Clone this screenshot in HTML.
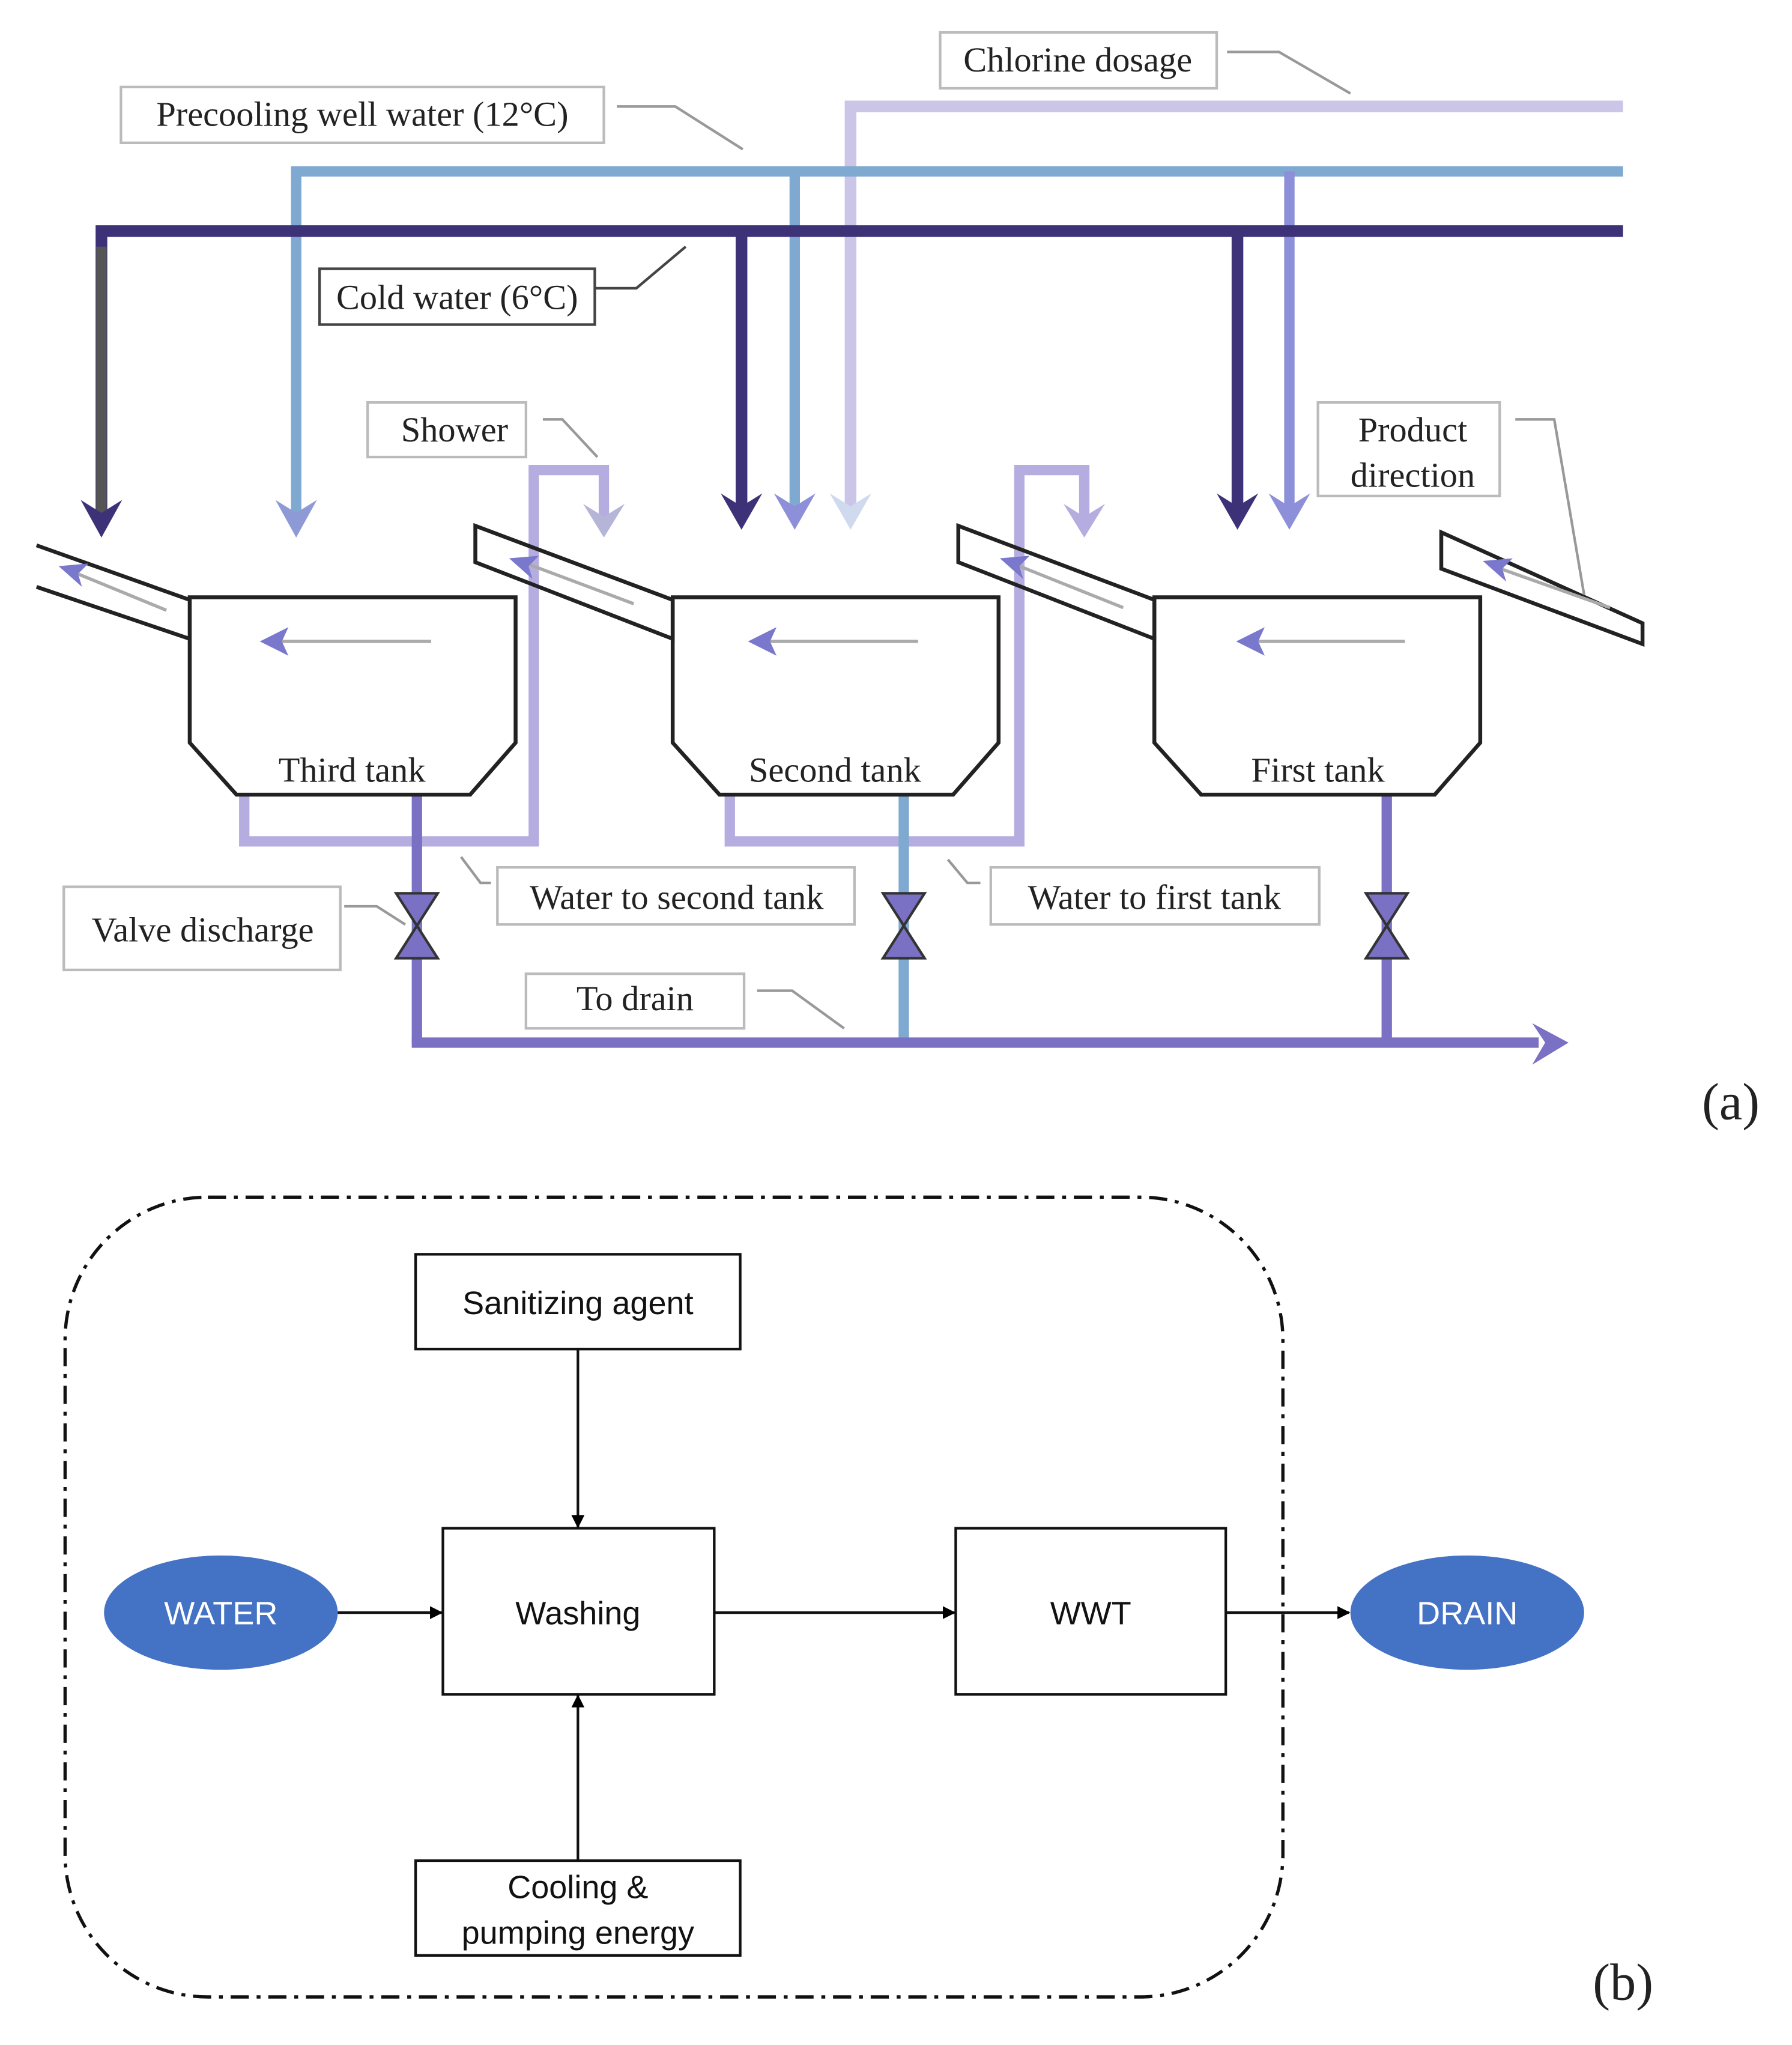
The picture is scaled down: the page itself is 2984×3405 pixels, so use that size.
<!DOCTYPE html>
<html><head><meta charset="utf-8"><style>html,body{margin:0;padding:0;background:#fff}svg{display:block}</style></head>
<body>
<svg width="2984" height="3405" viewBox="0 0 1380 1575" xmlns="http://www.w3.org/2000/svg">
<defs>
<marker id="ah" markerWidth="10" markerHeight="10" refX="9" refY="5" orient="auto" markerUnits="userSpaceOnUse"><path d="M0,0 L10,5 L0,10 z" fill="#000"/></marker>
</defs>
<rect width="1380" height="1575" fill="#fff"/>
<g fill="none" stroke-linecap="butt">
<!-- chlorine -->
<path d="M1250,82 H655 V395" stroke="#cbc6e8" stroke-width="9"/>
<!-- precooling -->
<path d="M1250,132 H228 V395" stroke="#7fa9d0" stroke-width="8"/>
<path d="M612,132 V390" stroke="#7fa9d0" stroke-width="8"/>
<path d="M993,132 V390" stroke="#8d8fd8" stroke-width="8"/>
<!-- cold water -->
<path d="M1250,178 H78 V395" stroke="#3d3178" stroke-width="9"/>
<path d="M78,190 V395" stroke="#555" stroke-width="8"/>
<path d="M571,178 V390" stroke="#3d3178" stroke-width="9"/>
<path d="M953,178 V390" stroke="#3d3178" stroke-width="9"/>
<!-- shower loops -->
<path d="M188,612 V648 H411 V362 H465 V400" stroke="#b5ade0" stroke-width="8"/>
<path d="M562,612 V648 H785 V362 H835 V400" stroke="#b5ade0" stroke-width="8"/>
<!-- drains -->
<path d="M321,612 V803" stroke="#7a70c4" stroke-width="8"/>
<path d="M696,612 V803" stroke="#7fa9d0" stroke-width="8"/>
<path d="M1068,612 V803" stroke="#7a70c4" stroke-width="8"/>
<path d="M317,803 H1185" stroke="#7a70c4" stroke-width="8"/>
</g>
<!-- arrowheads top -->
<g>
<path d="M62,385 L78,414 L94,385 L78,395z" fill="#3d3178"/>
<path d="M212,385 L228,414 L244,385 L228,395z" fill="#8d9ad6"/>
<path d="M555,380 L571,408 L587,380 L571,390z" fill="#3d3178"/>
<path d="M596,380 L612,408 L628,380 L612,390z" fill="#8d8fd8"/>
<path d="M639,380 L655,408 L671,380 L655,390z" fill="#cfdaee"/>
<path d="M937,380 L953,408 L969,380 L953,390z" fill="#3d3178"/>
<path d="M977,380 L993,408 L1009,380 L993,390z" fill="#8d8fd8"/>
<path d="M449,388 L465,414 L481,388 L465,398z" fill="#b5b5d8"/>
<path d="M819,388 L835,414 L851,388 L835,398z" fill="#b5ade0"/>
<path d="M1180,788 L1208,803 L1180,820 L1190,803z" fill="#7a70c4"/>
</g>
<!-- tanks -->
<g fill="none" stroke="#222" stroke-width="3">
<path d="M146,460 H397 V572 L362,612 H182 L146,572 Z"/>
<path d="M518,460 H769 V572 L734,612 H554 L518,572 Z"/>
<path d="M889,460 H1140 V572 L1105,612 H925 L889,572 Z"/>
<path d="M28,420 L146,462 M28,452 L146,492"/>
<path d="M366,405 L518,462 L518,492 L366,433 Z"/>
<path d="M738,405 L889,462 L889,492 L738,433 Z"/>
<path d="M1110,410 L1265,480 L1265,496 L1110,438 Z"/>
</g>
<!-- inner arrows -->
<g stroke="#aaa" stroke-width="2.5" fill="none">
<path d="M332,494 H215"/><path d="M707,494 H590"/><path d="M1082,494 H965"/>
<path d="M128,470 L55,440"/><path d="M488,465 L400,432"/><path d="M865,468 L780,434"/><path d="M1240,468 L1150,436"/>
</g>
<g fill="#7a78cc">
<path d="M200,494 L222,483 L217,494 L222,505z"/>
<path d="M576,494 L598,483 L593,494 L598,505z"/>
<path d="M952,494 L974,483 L969,494 L974,505z"/>
<path d="M45,436 L68,434 L60,442 L63,452z"/>
<path d="M392,430 L415,428 L407,436 L410,446z"/>
<path d="M770,430 L793,428 L785,436 L788,446z"/>
<path d="M1142,432 L1165,430 L1157,438 L1160,448z"/>
</g>
<!-- valves -->
<g fill="#7a70c4" stroke="#333" stroke-width="2">
<path d="M305,688 H337 L305,738 H337 Z"/>
<path d="M680,688 H712 L680,738 H712 Z"/>
<path d="M1052,688 H1084 L1052,738 H1084 Z"/>
</g>
<!-- labels -->
<g font-family="Liberation Serif, serif" font-size="27" fill="#222">
<g fill="#fff" stroke="#bbb" stroke-width="2">
<rect x="724" y="25" width="213" height="43"/>
<rect x="93" y="67" width="372" height="43"/>
<rect x="283" y="310" width="122" height="42"/>
<rect x="1015" y="310" width="140" height="72"/>
<rect x="49" y="683" width="213" height="64"/>
<rect x="383" y="668" width="275" height="44"/>
<rect x="763" y="668" width="253" height="44"/>
<rect x="405" y="750" width="168" height="42"/>
</g>
<rect x="246" y="207" width="212" height="43" fill="#fff" stroke="#444" stroke-width="2"/>
<text x="830" y="55" text-anchor="middle">Chlorine dosage</text>
<text x="279" y="97" text-anchor="middle">Precooling well water (12°C)</text>
<text x="352" y="238" text-anchor="middle">Cold water (6°C)</text>
<text x="350" y="340" text-anchor="middle">Shower</text>
<text x="1088" y="340" text-anchor="middle">Product</text>
<text x="1088" y="375" text-anchor="middle">direction</text>
<text x="156" y="725" text-anchor="middle">Valve discharge</text>
<text x="521" y="700" text-anchor="middle">Water to second tank</text>
<text x="889" y="700" text-anchor="middle">Water to first tank</text>
<text x="489" y="778" text-anchor="middle">To drain</text>
<text x="271" y="602" text-anchor="middle">Third tank</text>
<text x="643" y="602" text-anchor="middle">Second tank</text>
<text x="1015" y="602" text-anchor="middle">First tank</text>
<text x="1333" y="862" text-anchor="middle" font-size="40">(a)</text>
<text x="1250" y="1540" text-anchor="middle" font-size="40">(b)</text>
</g>
<g fill="none" stroke="#999" stroke-width="2">
<path d="M945,40 H985 L1040,72"/>
<path d="M475,82 H520 L572,115"/>
<path d="M418,323 H433 L460,352"/>
<path d="M1167,323 H1197 L1220,458"/>
<path d="M265,698 H290 L312,712"/>
<path d="M378,680 H370 L355,660"/>
<path d="M755,680 H745 L730,662"/>
<path d="M583,763 H610 L650,792"/>
</g>
<path d="M458,222 H490 L528,190" fill="none" stroke="#444" stroke-width="2"/>
<!-- part b -->
<rect x="50" y="922" width="938" height="616" rx="110" ry="110" fill="none" stroke="#111" stroke-width="2.5" stroke-dasharray="14,6,3,6"/>
<g fill="#fff" stroke="#111" stroke-width="2">
<rect x="320" y="966" width="250" height="73"/>
<rect x="341" y="1177" width="209" height="128"/>
<rect x="736" y="1177" width="208" height="128"/>
<rect x="320" y="1433" width="250" height="73"/>
</g>
<ellipse cx="170" cy="1242" rx="90" ry="44" fill="#4472c4"/>
<ellipse cx="1130" cy="1242" rx="90" ry="44" fill="#4472c4"/>
<g stroke="#111" stroke-width="2" fill="none" marker-end="url(#ah)">
<path d="M445,1039 V1176"/>
<path d="M445,1433 V1306"/>
<path d="M260,1242 H340"/>
<path d="M550,1242 H735"/>
<path d="M944,1242 H1039"/>
</g>
<g font-family="Liberation Sans, sans-serif" font-size="25" text-anchor="middle" fill="#111">
<text x="445" y="1012">Sanitizing agent</text>
<text x="445" y="1251">Washing</text>
<text x="840" y="1251">WWT</text>
<text x="445" y="1462">Cooling &amp;</text>
<text x="445" y="1497">pumping energy</text>
<text x="170" y="1251" fill="#fff">WATER</text>
<text x="1130" y="1251" fill="#fff">DRAIN</text>
</g>
</svg>
</body></html>
